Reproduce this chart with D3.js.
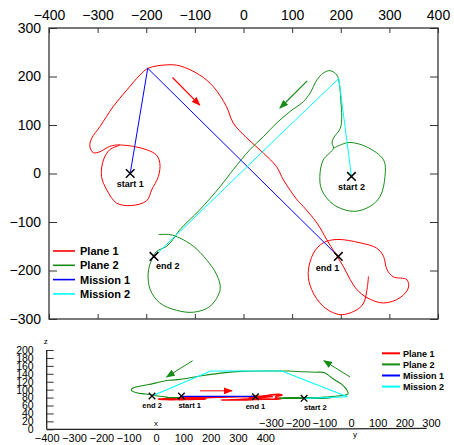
<!DOCTYPE html>
<html lang="en">
<head>
<meta charset="UTF-8" />
<title>Plane trajectories</title>
<script src="https://d3js.org/d3.v7.min.js"></script>
<style>
  body { margin: 0; background: #fff; }
  svg { display: block; font-family: "Liberation Sans", Arial, sans-serif; }
  .lbl { font-weight: bold; }
</style>
</head>
<body>
<div id="chart"></div>
<script>
// Plane 1 track (top view x, y and altitude z)
const plane1X = [-254, -227, -199, -179, -172, -175, -189, -199, -230, -261, -281, -292, -288, -275, -254,
  -275, -295, -309, -316, -312, -295, -268, -240, -213,
  -196, -158, -131, -90, -62, -35, -21, 7, 41, 68, 82, 110, 123, 151, 171,
  188, 205, 219, 233, 254, 288, 322, 339, 336, 308, 295, 288, 274, 240, 192, 164, 144, 133, 140, 164, 199, 233, 247, 254, 257];
const plane1Y = [59, 56, 49, 38, 21, -6, -34, -56, -66, -61, -34, -6, 28, 49, 59,
  56, 45, 43, 56, 73, 97, 138, 172, 203,
  217, 224, 222, 203, 179, 138, 104, 73, 42, 14, -13, -54, -68, -102, -136,
  -164, -191, -218, -239, -256, -267, -256, -236, -219, -213, -198, -171, -154, -143, -136, -143, -164, -205, -239, -274, -291, -281, -267, -239, -212];
const plane1Z = [78, 78, 77, 77, 76, 76, 75, 75, 75, 76, 76, 77, 77, 78, 78,
  78, 77, 77, 78, 79, 80, 80, 81, 82,
  82, 83, 83, 82, 82, 82, 81, 81, 82, 82, 81, 81, 80, 80, 80,
  79, 79, 78, 78, 79, 82, 86, 88, 86, 83, 80, 78, 77, 76, 76, 75, 74, 74, 74, 74, 74, 75, 76, 78, 80];

// Plane 2 track
const plane2X = [185, 202, 219, 253, 288, 291, 281, 260, 226, 185, 161, 157, 164, 185,
  182, 185, 199, 202, 200, 197, 192,
  178, 164, 151, 137, 123, 96, 68, 41, 13, -21, -48,
  -90, -131, -145, -158, -179, -189, -196, -192, -172, -138, -103, -69, -48, -55, -76, -103, -131, -151, -175];
const plane2Y = [52, 60, 64, 55, 28, -6, -47, -68, -78, -64, -34, -6, 28, 52,
  63, 73, 93, 117, 152, 186, 203,
  212, 207, 193, 166, 148, 128, 104, 76, 49, 8, -27,
  -75, -116, -136, -150, -161, -178, -205, -239, -267, -282, -286, -274, -239, -209, -178, -150, -133, -126, -126];
const plane2Z = [80, 80, 80, 80, 79, 78, 78, 78, 78, 78, 79, 80, 80, 80,
  80, 80, 81, 82, 84, 86, 90,
  100, 114, 125, 143, 144, 145, 147, 147, 147, 146, 143,
  135, 126, 124, 122, 117, 113, 109, 104, 99, 92, 89, 84, 80, 80, 80, 80, 80, 80, 80];

// Planned missions
const mission1X = [-233, -197, 195];
const mission1Y = [0, 217, -171];
const mission1Z = [83, 83, 83];
const mission2X = [222, 196, 68, -70, -184];
const mission2Y = [-6, 196, 73, -61, -171];
const mission2Z = [78, 82, 147, 147, 84];

// start / end points
const pointNames = ["start 1", "start 2", "end 1", "end 2"];
const pointX = [-233, 222, 195, -184];
const pointY = [0, -6, -171, -171];
const pointZ = [84, 78, 82, 84];

// direction arrows: top view [x0, y0, x1, y1], side view [x0, z0, x1, z1]
const arrowTop = [[-146, 198, -90, 141], [131, 191, 75, 135]];
const arrowTopColor = ["red", "green"];
const arrowSide = [[-165, 97, -48, 97], [-192, 173, -287, 132], [385, 132, 289, 173]];
const arrowSideColor = ["red", "green", "green"];

const xTicks = [-400, -300, -200, -100, 0, 100, 200, 300, 400];
const yTicks = [-300, -200, -100, 0, 100, 200, 300];
const zTicks = [0, 20, 40, 60, 80, 100, 120, 140, 160, 180, 200];

const seriesNames = ["Plane 1", "Plane 2", "Mission 1", "Mission 2"];
const seriesColors = { "red": "#ff0000", "green": "#168c16", "blue": "#0000ff", "cyan": "#00ffff" };
const colorList = [seriesColors.red, seriesColors.green, seriesColors.blue, seriesColors.cyan];

const W = 454, H = 445;
const svg = d3.select("#chart").append("svg").attr("width", W).attr("height", H);

// arrow heads
const defs = svg.append("defs");
["red", "green"].forEach(c => {
  defs.append("marker")
    .attr("id", "arr-" + c)
    .attr("markerUnits", "userSpaceOnUse")
    .attr("markerWidth", 9).attr("markerHeight", 7)
    .attr("refX", 8).attr("refY", 3.5)
    .attr("orient", "auto")
    .append("path").attr("d", "M0,0 L9,3.5 L0,7 Z").attr("fill", seriesColors[c]);
});

// ---------- top view ----------
const x = d3.scaleLinear().domain([-400, 400]).range([49, 438]);
const y = d3.scaleLinear().domain([-300, 300]).range([319, 28]);

function styleAxis(g, size) {
  g.attr("font-size", size).attr("font-family", null);
  g.select(".domain").remove();
  g.selectAll(".tick line").attr("stroke", "#333").attr("stroke-width", 1);
}

svg.append("g").attr("transform", "translate(0,28)")
  .call(d3.axisTop(x).tickValues(xTicks).tickSizeInner(-5).tickSizeOuter(0).tickPadding(8))
  .call(g => styleAxis(g, 14));
svg.append("g").attr("transform", "translate(0,319)")
  .call(d3.axisBottom(x).tickValues(xTicks).tickSizeInner(-5).tickSizeOuter(0).tickFormat(""))
  .call(g => styleAxis(g, 14));
svg.append("g").attr("transform", "translate(49,0)")
  .call(d3.axisLeft(y).tickValues(yTicks).tickSizeInner(-8).tickSizeOuter(0).tickPadding(8))
  .call(g => styleAxis(g, 14));
svg.append("g").attr("transform", "translate(438,0)")
  .call(d3.axisRight(y).tickValues(yTicks).tickSizeInner(-8).tickSizeOuter(0).tickFormat(""))
  .call(g => styleAxis(g, 14));

svg.append("rect")
  .attr("x", x(-400)).attr("y", y(300))
  .attr("width", x(400) - x(-400)).attr("height", y(-300) - y(300))
  .attr("fill", "none").attr("stroke", "#333").attr("stroke-width", 1.3);

const topLine = d3.line().curve(d3.curveCatmullRom.alpha(0.5));
const tracks = [
  [plane1X, plane1Y, plane1Z, true],
  [plane2X, plane2Y, plane2Z, true],
  [mission1X, mission1Y, mission1Z, false],
  [mission2X, mission2Y, mission2Z, false]
];

tracks.forEach((t, i) => {
  const pts = t[0].map((v, k) => [x(v), y(t[1][k])]);
  svg.append("path")
    .attr("d", t[3] ? topLine(pts) : d3.line()(pts))
    .attr("fill", "none")
    .attr("stroke", colorList[i])
    .attr("stroke-width", 1);
});

arrowTop.forEach((a, i) => {
  svg.append("line")
    .attr("x1", x(a[0])).attr("y1", y(a[1]))
    .attr("x2", x(a[2])).attr("y2", y(a[3]))
    .attr("stroke", seriesColors[arrowTopColor[i]]).attr("stroke-width", 1.2)
    .attr("marker-end", `url(#arr-${arrowTopColor[i]})`);
});

const xMark = d3.symbol(d3.symbolX);
const topLabel = {
  "start 1": { anchor: "middle", dx: 0, dy: 13 },
  "start 2": { anchor: "middle", dx: 0, dy: 14 },
  "end 1": { anchor: "end", dx: 1, dy: 15 },
  "end 2": { anchor: "start", dx: 2, dy: 13 }
};
pointNames.forEach((n, i) => {
  const px = x(pointX[i]), py = y(pointY[i]);
  svg.append("path").attr("d", xMark.size(50)())
    .attr("transform", `translate(${px},${py})`)
    .attr("fill", "none").attr("stroke", "#000").attr("stroke-width", 1.5);
  svg.append("text").attr("class", "lbl")
    .attr("x", px + topLabel[n].dx).attr("y", py + topLabel[n].dy)
    .attr("text-anchor", topLabel[n].anchor)
    .attr("font-size", 9).text(n);
});

// legend (top)
const legTop = svg.append("g").attr("transform", "translate(53,251)");
seriesNames.forEach((n, i) => {
  legTop.append("line").attr("x1", 0).attr("x2", 22)
    .attr("y1", i * 14.3).attr("y2", i * 14.3)
    .attr("stroke", colorList[i]).attr("stroke-width", 1.6);
  legTop.append("text").attr("class", "lbl")
    .attr("x", 27).attr("y", i * 14.3 + 4)
    .attr("font-size", 11).text(n);
});

// ---------- side view ----------
const zS = d3.scaleLinear().domain([0, 200]).range([429.3, 350]);
const xAxisS = d3.scaleLinear().domain([-400, 400]).range([46.7, 265.3]);
const yAxisS = d3.scaleLinear().domain([-300, 300]).range([271, 431]);
// oblique projection of (x, y) onto the screen
const xProj = d3.scaleLinear().domain([-400, 400]).range([135.8, 354.2]);
const yProj = d3.scaleLinear().domain([-300, 300]).range([-75, 75]);
const proj = (px, py, pz) => [xProj(px) + yProj(py), zS(pz)];

// z axis
svg.append("g").attr("transform", "translate(46.7,0)")
  .call(d3.axisLeft(zS).tickValues(zTicks).tickSizeInner(-7).tickSizeOuter(0).tickPadding(13))
  .call(g => styleAxis(g, 10.5));
svg.append("line").attr("x1", 46.7).attr("x2", 46.7).attr("y1", zS(200)).attr("y2", zS(0))
  .attr("stroke", "#222").attr("stroke-width", 1.3);
svg.append("text").attr("x", 45.7).attr("y", 344).attr("text-anchor", "middle")
  .attr("font-size", 8).text("z");

// x axis
svg.append("g").attr("transform", "translate(0,429.3)")
  .call(d3.axisBottom(xAxisS).tickValues(xTicks).tickSize(0).tickPadding(4.5))
  .call(g => styleAxis(g, 11));
svg.append("text").attr("x", xAxisS(0)).attr("y", 426).attr("text-anchor", "middle")
  .attr("font-size", 8).text("x");

// y axis
svg.append("g").attr("transform", "translate(0,429.3)")
  .call(d3.axisTop(yAxisS).tickValues(yTicks).tickSize(0).tickPadding(2.5))
  .call(g => styleAxis(g, 11));
svg.append("text").attr("x", yAxisS(0) + 4).attr("y", 437).attr("text-anchor", "middle")
  .attr("font-size", 8).text("y");

svg.append("path").attr("d", "M46.7,429.3 L265.3,429.3 L426.7,428.3")
  .attr("fill", "none").attr("stroke", "#222").attr("stroke-width", 1.3);

tracks.forEach((t, i) => {
  const pts = t[0].map((v, k) => proj(v, t[1][k], t[2][k]));
  svg.append("path")
    .attr("d", t[3] ? topLine(pts) : d3.line()(pts))
    .attr("fill", "none")
    .attr("stroke", colorList[i])
    .attr("stroke-width", i === 0 ? 1.6 : 1.1);
});

arrowSide.forEach((a, i) => {
  const p0 = proj(a[0], 0, a[1]), p1 = proj(a[2], 0, a[3]);
  svg.append("line")
    .attr("x1", p0[0]).attr("y1", p0[1]).attr("x2", p1[0]).attr("y2", p1[1])
    .attr("stroke", seriesColors[arrowSideColor[i]]).attr("stroke-width", 1)
    .attr("marker-end", `url(#arr-${arrowSideColor[i]})`);
});

const sideLabel = {
  "start 1": { anchor: "start", dx: -3 },
  "start 2": { anchor: "start", dx: 0 },
  "end 1": { anchor: "middle", dx: 0 },
  "end 2": { anchor: "middle", dx: 0 }
};
pointNames.forEach((n, i) => {
  const p = proj(pointX[i], pointY[i], pointZ[i]);
  svg.append("path").attr("d", xMark.size(30)())
    .attr("transform", `translate(${p[0]},${p[1]})`)
    .attr("fill", "none").attr("stroke", "#000").attr("stroke-width", 1.3);
  svg.append("text").attr("class", "lbl")
    .attr("x", p[0] + sideLabel[n].dx).attr("y", p[1] + 12)
    .attr("text-anchor", sideLabel[n].anchor)
    .attr("font-size", 7.5).text(n);
});

// legend (side)
const legSide = svg.append("g").attr("transform", "translate(382,353.3)");
seriesNames.forEach((n, i) => {
  legSide.append("line").attr("x1", 0).attr("x2", 18)
    .attr("y1", i * 11.1).attr("y2", i * 11.1)
    .attr("stroke", colorList[i]).attr("stroke-width", 2);
  legSide.append("text").attr("class", "lbl")
    .attr("x", 21).attr("y", i * 11.1 + 3.2)
    .attr("font-size", 9).text(n);
});
</script>
</body>
</html>
